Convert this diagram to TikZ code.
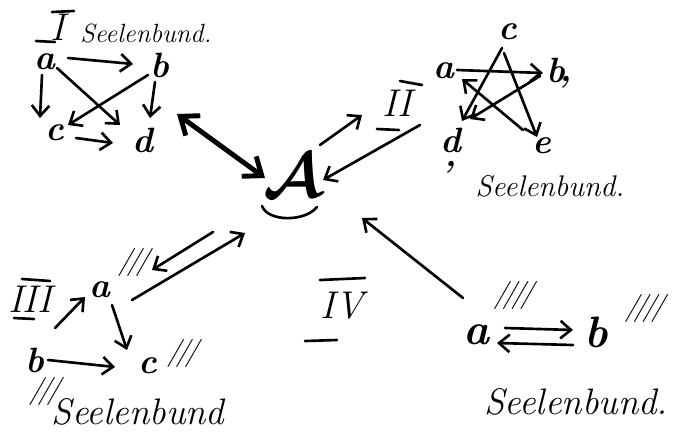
\documentclass[tikz,border=0pt]{standalone}
\usepackage{fontspec}
\usepackage{graphicx}
\usetikzlibrary{arrows.meta,calc}
\newcommand{\tickmarks}[1]{{\itshape\fontsize{16}{16}\selectfont
  \foreach \k in {1,...,#1}{\ifnum\k>1\kern-3pt\fi/}}}
\begin{document}
\begin{tikzpicture}[x=0.02cm,y=-0.02cm,
  pen/.style={line width=1.5pt,line cap=round,line join=round},
  arr/.style={pen,-{Straight Barb[length=6pt,width=10pt]}},
  darr/.style={line width=2.8pt,line cap=round,{Straight Barb[length=9pt,width=14pt]}-{Straight Barb[length=9pt,width=14pt]}},
  ltr/.style={font=\bfseries\itshape\fontsize{20}{20}\selectfont,inner sep=0pt},
  big/.style={font=\bfseries\itshape\fontsize{25}{25}\selectfont,inner sep=0pt},
  roman/.style={font=\itshape\fontsize{22}{22}\selectfont,inner sep=0pt},
  ticks/.style={inner sep=0pt},
  sbund/.style={font=\itshape\fontsize{#1}{#1}\selectfont,inner sep=0pt},
]
\useasboundingbox (0,0) rectangle (680,444);

% ---- centre
\node[inner sep=0pt] (A) at (293,176) {\scalebox{1.45}{\Huge\boldmath$\mathcal{A}$}};
\draw[pen] ($(A)+(-31,30)$) .. controls ($(A)+(-25,46)$) and ($(A)+(12,46)$) .. ($(A)+(24,31)$);

% ---- group I
\node[roman] (nI) at (58,27) {I};
\draw[pen] ($(nI)+(-6,-15)$) -- ($(nI)+(16,-16)$);
\draw[pen] ($(nI)+(-22,14)$) -- ($(nI)+(-3,15)$);
\node[sbund=15] (sbI) at (146,33) {Seelenbund.};
\node[ltr] (aI) at (45,62) {a};
\node[ltr] (bI) at (160,65) {b};
\node[ltr] (cI) at (55,133) {c};
\node[ltr] (dI) at (143,140) {d};
\draw[arr] ($(aI)+(23,-4)$) -- ($(bI)+(-27,-1)$);
\draw[arr] ($(aI)+(-3,13)$) -- ($(cI)+(-15,-15)$);
\draw[arr] ($(aI)+(12,6)$) -- ($(dI)+(-23,-15)$);
\draw[arr] ($(bI)+(-12,10)$) -- ($(cI)+(13,-8)$);
\draw[arr] ($(bI)+(-5,17)$) -- ($(dI)+(7,-22)$);
\draw[arr] ($(cI)+(21,5)$) -- ($(dI)+(-30,3)$);
\coordinate (hubI) at (177,114);
\draw[darr] (hubI) -- ($(A)+(-28,2)$);

% ---- group II
\node[roman] (nII) at (397,103) {II};
\draw[pen] ($(nII)+(3,-22)$) -- ($(nII)+(25,-18)$);
\draw[pen] ($(nII)+(-20,26)$) -- ($(nII)+(2,27)$);
\node[ltr] (cII) at (508,32) {c};
\node[ltr] (aII) at (444,71) {a};
\node[ltr] (bII) at (556,70) {b};
\node[ltr] (bIIc) at (566,82) {,};
\node[ltr,align=center,anchor=north] (dII) at (451,128) {d\\[-12pt],};
\node[ltr] (eII) at (542,146) {e};
\node[sbund=17] (sbII) at (550,186) {Seelenbund.};
\draw[arr] ($(aII)+(13,-1)$) -- ($(bII)+(-13,3)$);
\draw[arr] ($(cII)+(-6,16)$) -- ($(dII.north)+(11,-7)$);
\draw[arr] ($(cII)+(-4,21)$) -- ($(eII)+(-5,-9)$);
\draw[arr] ($(bII)+(-16,6)$) -- ($(dII.north)+(19,-9)$);
\draw[arr] ($(eII)+(-19,-16)$) -- ($(aII)+(18,8)$);
\coordinate (outII) at (362,115);
\coordinate (inII) at (420,125);
\draw[arr] ($(A)+(27,-31)$) -- (outII);
\draw[arr] (inII) -- ($(A)+(30,4)$);

% ---- group III
\node[roman] (nIII) at (30,299) {III};
\draw[pen] ($(nIII)+(-8,-20)$) -- ($(nIII)+(20,-18)$);
\draw[pen] ($(nIII)+(-16,19)$) -- ($(nIII)+(4,20)$);
\node[ltr] (aIII) at (100,290) {a};
\node[ticks] (taIII) at (134,262) {\tickmarks{3}};
\node[ltr] (bIII) at (35,360) {b};
\node[ltr] (cIII) at (148,366) {c};
\node[ticks] (tcIII) at (183,353) {\tickmarks{3}};
\node[ticks] (tbIII) at (45,391) {\tickmarks{3}};
\node[sbund=21] (sbIII) at (138,412) {Seelenbund};
\draw[arr] ($(bIII)+(20,-32)$) -- ($(aIII)+(-15,7)$);
\draw[arr] ($(aIII)+(12,15)$) -- ($(cIII)+(-21,-16)$);
\draw[arr] ($(bIII)+(13,0)$) -- ($(cIII)+(-33,1)$);
\coordinate (inIII) at (213,232);
\draw[arr] (inIII) -- ($(aIII)+(52,-20)$);
\draw[arr] ($(aIII)+(32,10)$) -- ($(A)+(-48,57)$);

% ---- group IV
\node[roman] (nIV) at (342,306) {IV};
\draw[pen] ($(nIV)+(-22,-26)$) -- ($(nIV)+(23,-28)$);
\draw[pen] ($(nIV)+(-37,35)$) -- ($(nIV)+(-5,34)$);
\node[big] (aIV) at (476,335) {a};
\node[ticks] (taIV) at (514,295) {\tickmarks{4}};
\node[big] (bIV) at (596,332) {b};
\node[ticks] (tbIV) at (645,308) {\tickmarks{4}};
\node[sbund=21] (sbIV) at (576,402) {Seelenbund.};
\draw[arr] ($(aIV)+(29,-7)$) -- ($(bIV)+(-23,-2)$);
\draw[arr] ($(bIV)+(-23,13)$) -- ($(aIV)+(21,8)$);
\draw[arr] ($(aIV)+(-13,-37)$) -- ($(A)+(69,42)$);
\end{tikzpicture}
\end{document}
